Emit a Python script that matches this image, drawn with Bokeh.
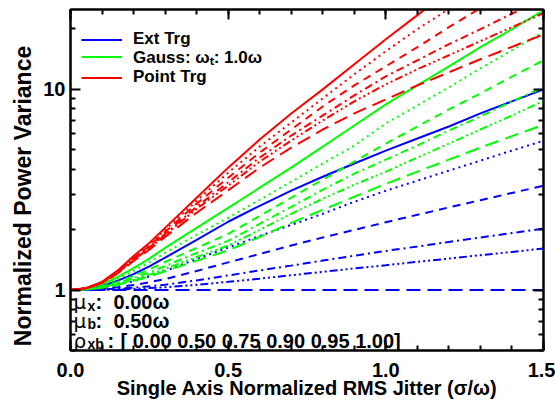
from bokeh.plotting import figure
from bokeh.models import (LinearAxis, LogAxis, FixedTicker, Range1d, Label,
                          Legend, LegendItem, PrintfTickFormatter)
from bokeh.embed import file_html
from bokeh.resources import INLINE

# ---------------- data ----------------
jitter = [0.0, 0.05, 0.1, 0.15, 0.2, 0.25, 0.3, 0.4, 0.5, 0.6, 0.7, 0.8, 0.9,
          1.0, 1.1, 1.2, 1.3, 1.4, 1.5]
rho_xb = ["0.00", "0.50", "0.75", "0.90", "0.95", "1.00"]

# one row per rho_xb value (0.00, 0.50, 0.75, 0.90, 0.95, 1.00)
ext_trg = [
    [1, 1.012, 1.05, 1.114, 1.20, 1.312, 1.45, 1.78, 2.19, 2.63, 3.13, 3.67, 4.27, 4.95, 5.69, 6.53, 7.59, 8.71, 10.0],
    [1, 1.007, 1.028, 1.063, 1.109, 1.171, 1.245, 1.429, 1.629, 1.862, 2.113, 2.399, 2.754, 3.126, 3.508, 3.936, 4.416, 4.955, 5.546],
    [1, 1.003, 1.014, 1.034, 1.059, 1.094, 1.135, 1.245, 1.374, 1.514, 1.667, 1.828, 1.995, 2.178, 2.371, 2.582, 2.805, 3.048, 3.311],
    [1, 1.002, 1.007, 1.016, 1.028, 1.045, 1.064, 1.117, 1.183, 1.253, 1.324, 1.403, 1.483, 1.567, 1.648, 1.738, 1.828, 1.923, 2.023],
    [1, 1.001, 1.003, 1.008, 1.014, 1.023, 1.033, 1.062, 1.099, 1.140, 1.186, 1.233, 1.282, 1.330, 1.384, 1.435, 1.493, 1.549, 1.611],
    [1, 1, 1, 1, 1, 1, 1, 1, 1, 1, 1, 1, 1, 1, 1, 1, 1, 1, 1],
]
gauss_trg = [
    [1, 1.017, 1.072, 1.162, 1.288, 1.435, 1.622, 2.042, 2.570, 3.236, 4.074, 5.188, 6.607, 8.414, 10.47, 13.03, 16.22, 19.95, 24.77],
    [1, 1.015, 1.059, 1.137, 1.245, 1.372, 1.531, 1.884, 2.291, 2.818, 3.467, 4.266, 5.248, 6.761, 8.318, 10.23, 12.74, 15.67, 19.36],
    [1, 1.010, 1.042, 1.099, 1.175, 1.267, 1.380, 1.622, 1.905, 2.344, 2.884, 3.548, 4.365, 5.370, 6.531, 7.943, 9.550, 11.56, 13.96],
    [1, 1.009, 1.035, 1.084, 1.148, 1.225, 1.318, 1.531, 1.758, 2.138, 2.600, 3.162, 3.802, 4.467, 5.248, 6.237, 7.328, 8.710, 10.26],
    [1, 1.0075, 1.030, 1.072, 1.127, 1.194, 1.274, 1.462, 1.667, 1.995, 2.399, 2.851, 3.350, 3.890, 4.571, 5.370, 6.310, 7.413, 8.770],
    [1, 1.007, 1.028, 1.064, 1.112, 1.171, 1.242, 1.400, 1.578, 1.841, 2.163, 2.512, 2.917, 3.381, 3.890, 4.467, 5.129, 5.848, 6.668],
]
point_trg = [
    [1, 1.024, 1.099, 1.253, 1.479, 1.718, 2.042, 2.884, 4.074, 5.623, 7.586, 10.00, 13.34, 17.78, 23.44, 30.90, 40.0, 52.0, 68.0],
    [1, 1.023, 1.094, 1.241, 1.455, 1.687, 1.995, 2.786, 3.846, 5.188, 6.839, 9.016, 11.89, 15.49, 19.95, 25.12, 31.6, 39.8, 50.1],
    [1, 1.022, 1.091, 1.233, 1.439, 1.658, 1.950, 2.692, 3.631, 4.842, 6.310, 8.222, 10.47, 13.03, 16.22, 20.42, 25.41, 31.6, 39.8],
    [1, 1.022, 1.089, 1.226, 1.422, 1.630, 1.905, 2.600, 3.443, 4.571, 5.888, 7.413, 9.333, 11.61, 13.96, 16.79, 19.95, 23.82, 28.18],
    [1, 1.021, 1.086, 1.220, 1.413, 1.615, 1.884, 2.541, 3.311, 4.365, 5.559, 6.998, 8.710, 10.59, 12.59, 14.79, 17.38, 20.42, 23.99],
    [1, 1.020, 1.084, 1.212, 1.396, 1.588, 1.841, 2.427, 3.141, 4.074, 5.129, 6.310, 7.586, 8.913, 10.47, 12.16, 14.13, 16.29, 18.79],
]
series_names = ["Ext Trg", "Gauss: \u03c9\u209c: 1.0\u03c9", "Point Trg"]
mu_x = "0.00"
mu_b = "0.50"

# ---------------- styling ----------------
colors = ["#0000ff", "#00ff00", "#ff0000"]
dashes = ["solid", "2 4", "8 6", "8 4 2 4", "8 3 2 3 2 3 2 3", "14 7"]
FONT = "Liberation Sans"

p = figure(width=555, height=401, output_backend="svg", toolbar_location=None,
           x_range=Range1d(0, 1.5), y_range=Range1d(0.5, 25), y_axis_type="log",
           min_border_left=70, min_border_top=9, min_border_right=12,
           min_border_bottom=51)
p.grid.visible = False
p.outline_line_color = "black"
p.outline_line_width = 2
p.background_fill_color = "white"
p.border_fill_color = "white"

solid_renderers = []
for tgt, col in zip([ext_trg, gauss_trg, point_trg], colors):
    for k, ys in enumerate(tgt):
        r = p.line(jitter, ys, line_color=col, line_width=2, line_dash=dashes[k])
        if k == 0:
            solid_renderers.append(r)

# axes
xt = FixedTicker(ticks=[0, 0.5, 1.0, 1.5],
                 minor_ticks=[round(0.1 * i, 2) for i in range(16)])
yt = FixedTicker(ticks=[1, 10],
                 minor_ticks=[0.5, 0.6, 0.7, 0.8, 0.9, 2, 3, 4, 5, 6, 7, 8, 9, 20])

def style_axis(ax):
    ax.axis_line_width = 2
    ax.axis_line_color = "black"
    ax.major_tick_in = 10
    ax.major_tick_out = 0
    ax.minor_tick_in = 5
    ax.minor_tick_out = 0
    ax.major_tick_line_width = 2
    ax.minor_tick_line_width = 2
    ax.major_tick_line_color = "black"
    ax.minor_tick_line_color = "black"
    ax.major_label_text_color = "black"
    ax.axis_label_text_color = "black"

xa = p.xaxis[0]
xa.ticker = xt
xa.formatter = PrintfTickFormatter(format="%.1f")
style_axis(xa)
xa.major_label_text_font = FONT
xa.major_label_text_font_style = "bold"
xa.major_label_text_font_size = "20px"
xa.major_label_standoff = 12
xa.axis_label = "Single Axis Normalized RMS Jitter (\u03c3/\u03c9)"
xa.axis_label_text_font = FONT
xa.axis_label_text_font_style = "bold"
xa.axis_label_text_font_size = "20px"
xa.axis_label_standoff = -3

ya = p.yaxis[0]
ya.ticker = yt
ya.formatter = PrintfTickFormatter(format="%d")
style_axis(ya)
ya.major_label_text_font = FONT
ya.major_label_text_font_style = "bold"
ya.major_label_text_font_size = "20px"
ya.major_label_standoff = 5
ya.axis_label = "Normalized Power Variance" + "\u00a0" * 5
ya.axis_label_text_font = FONT
ya.axis_label_text_font_style = "bold"
ya.axis_label_text_font_size = "23px"
ya.axis_label_standoff = 4

for ax, side in [(LinearAxis(ticker=xt), "above"), (LogAxis(ticker=yt), "right")]:
    style_axis(ax)
    ax.major_label_text_font_size = "1px"
    ax.major_label_text_color = None
    ax.major_label_standoff = 0
    ax.axis_label_standoff = 0
    p.add_layout(ax, side)

# legend: one single-row legend per target, stacked tightly
for name, r, ypos in zip(series_names, solid_renderers, [301, 282, 263]):
    lg = Legend(items=[LegendItem(label=name, renderers=[r])],
                location=(11, ypos), padding=0, margin=0, spacing=0,
                glyph_width=41, glyph_height=17, label_height=17,
                label_standoff=11, border_line_alpha=0, background_fill_alpha=0,
                label_text_font=FONT, label_text_font_style="bold",
                label_text_font_size="17px", label_text_color="black")
    p.add_layout(lg)

# parameter annotation (bottom left)
def lab(x_off, y, text, size="20px", style="bold", font=FONT):
    p.add_layout(Label(x=0, y=y, x_offset=x_off, text=text, text_font=font,
                       text_font_size=size, text_font_style=style,
                       text_baseline="alphabetic", text_color="black"))

GREEK = "DejaVu Sans"
lab(3, 0.869, "\u03bc", font=GREEK, style="normal")
lab(17, 0.836, "x", size="14px")
lab(25, 0.869, ":")
lab(43, 0.869, mu_x + "\u03c9")
lab(3, 0.704, "\u03bc", font=GREEK, style="normal")
lab(17, 0.678, "b", size="14px")
lab(25, 0.704, ":")
lab(43, 0.704, mu_b + "\u03c9")
lab(3, 0.559, "\u03c1", font=GREEK, style="normal")
lab(17, 0.539, "xb", size="14px")
lab(37, 0.559, ":")
lab(50, 0.559, "[ " + " ".join(rho_xb) + "]")

open("out.html", "w").write(file_html(p, INLINE))
